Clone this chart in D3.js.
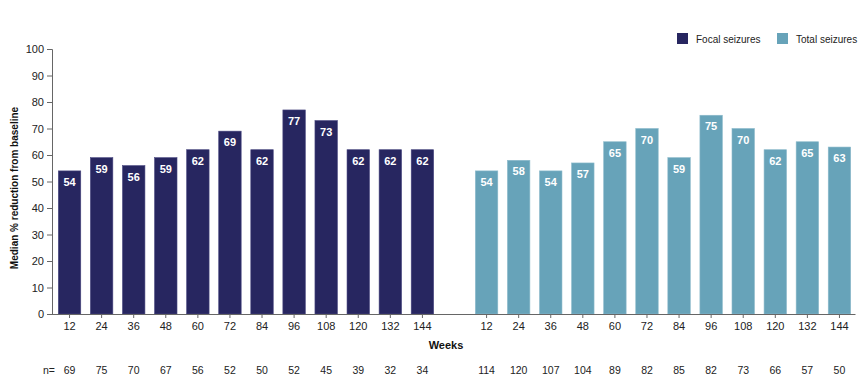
<!DOCTYPE html>
<html><head><meta charset="utf-8">
<script src="https://cdn.jsdelivr.net/npm/d3@7"></script>
<style>body{margin:0;background:#fff;font-family:"Liberation Sans",Arial,sans-serif;}</style>
</head><body><svg id="c" width="864" height="386"></svg>
<script>
const weeks = [12,24,36,48,60,72,84,96,108,120,132,144];
const focalValues = [54,59,56,59,62,69,62,77,73,62,62,62];
const totalValues = [54,58,54,57,65,70,59,75,70,62,65,63];
const focalN = [69,75,70,67,56,52,50,52,45,39,32,34];
const totalN = [114,120,107,104,89,82,85,82,73,66,57,50];
const yTicks = [0,10,20,30,40,50,60,70,80,90,100];
const seriesNames = ["Focal seizures","Total seizures"];
const colors = ["#272660","#67a3b9"];

const svg = d3.select("#c");
const slots = [...weeks.map(w=>"f"+w), "gap", ...weeks.map(w=>"t"+w)];
const x = d3.scaleBand().domain(slots).range([53.5,855.5]).paddingInner(0.3).paddingOuter(0.15);
const y = d3.scaleLinear().domain([0,100]).range([314,49]);

const data = [
  ...weeks.map((w,i)=>({key:"f"+w, week:w, v:focalValues[i], n:focalN[i], s:0})),
  ...weeks.map((w,i)=>({key:"t"+w, week:w, v:totalValues[i], n:totalN[i], s:1}))
];

// y axis
const ya = svg.append("g").attr("transform","translate(52,0)")
  .call(d3.axisLeft(y).tickValues(yTicks).tickSize(5).tickPadding(3));
ya.selectAll("path,line").attr("stroke","#666");
ya.selectAll("text").attr("font-size","11px").attr("fill","#222").attr("font-family","Liberation Sans, Arial, sans-serif");

// bars
svg.append("g").selectAll("rect").data(data).join("rect")
  .attr("x",d=>x(d.key)).attr("width",x.bandwidth())
  .attr("y",d=>y(d.v)).attr("height",d=>y(0)-y(d.v))
  .attr("fill",d=>colors[d.s]).attr("stroke",d=>d.s?"#8cbacb":"#4a4880").attr("stroke-width",0.6);

// value labels
svg.append("g").selectAll("text").data(data).join("text")
  .attr("x",d=>x(d.key)+x.bandwidth()/2).attr("y",d=>y(d.v)+15)
  .attr("text-anchor","middle").attr("fill","#fff").attr("font-weight","bold").attr("font-size","11px")
  .text(d=>d.v);

// x axis
const xa = svg.append("g").attr("transform","translate(0,314)")
  .call(d3.axisBottom(x).tickValues(slots.filter(s=>s!=="gap")).tickSize(4).tickPadding(4)
    .tickFormat(s=>s.slice(1)));
xa.select(".domain").attr("d","M52,0.5H855.5");
xa.selectAll("path,line").attr("stroke","#666");
xa.selectAll("text").attr("font-size","11px").attr("fill","#222").attr("font-family","Liberation Sans, Arial, sans-serif");

// Weeks label
svg.append("text").attr("x",446).attr("y",349).attr("text-anchor","middle")
  .attr("font-weight","bold").attr("font-size","11px").attr("fill","#111").text("Weeks");

// n row
svg.append("text").attr("x",55).attr("y",374).attr("text-anchor","end").attr("font-size","10.5px").attr("fill","#222").text("n=");
svg.append("g").selectAll("text").data(data).join("text")
  .attr("x",d=>x(d.key)+x.bandwidth()/2).attr("y",374).attr("text-anchor","middle")
  .attr("font-size","10.5px").attr("fill","#222").text(d=>d.n);

// y label
svg.append("text").attr("transform","translate(18,188) rotate(-90)").attr("text-anchor","middle")
  .attr("font-weight","bold").attr("font-size","10px").attr("fill","#111").text("Median % reduction from baseline");

// legend
const lx = [677,777];
seriesNames.forEach((nm,i)=>{
  svg.append("rect").attr("x",lx[i]).attr("y",33).attr("width",11).attr("height",11).attr("fill",colors[i]);
  svg.append("text").attr("x",lx[i]+19).attr("y",42.5).attr("font-size","10px").attr("fill","#222").text(nm);
});
</script></body></html>
